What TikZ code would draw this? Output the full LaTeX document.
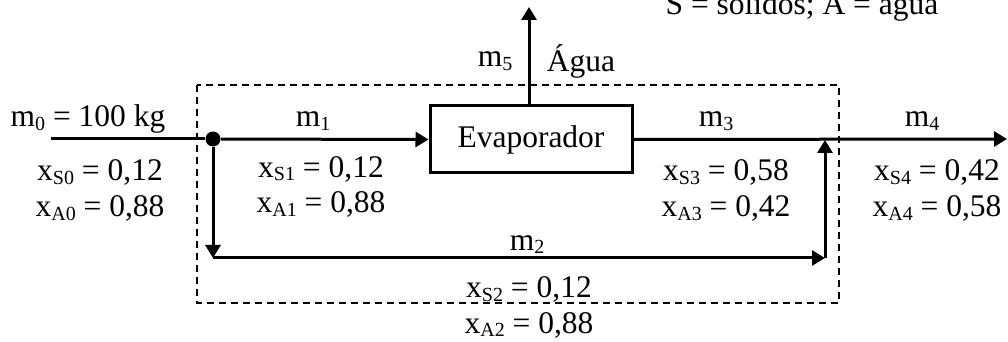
\documentclass[tikz,border=0pt]{standalone}
\usepackage{fontspec}
\setmainfont{Liberation Serif}
\usetikzlibrary{arrows.meta}
% small lowered index used in the stream names
\newcommand\idx[1]{\raisebox{-0.1em}{\fontsize{10}{10}\selectfont #1}}

\begin{document}
\begin{tikzpicture}[x=0.5pt,y=-0.5pt,
  every node/.style={font=\fontsize{15.75}{19}\selectfont, inner sep=0pt},
  flow/.style={line width=1.5pt},
  arr/.style={flow, -{Triangle[length=6.5pt,width=7.5pt]}},
  lbl/.style={anchor=base},
  unit/.style={draw, line width=1.5pt, minimum width=101pt, minimum height=33.5pt},
  boundary/.style={line width=1pt, dash pattern=on 3.5pt off 2.5pt}]
\useasboundingbox (0,0) rectangle (1008,342);

% control volume
\draw[boundary] (197,85) rectangle (839,303);

% process unit and junctions
\node[unit] (evap) at (531,139.5) {Evaporador};
\node[circle, fill, minimum size=7.5pt] (split) at (213,139) {};
\coordinate (in)   at (51,139);
\coordinate (out)  at (1007,139);
\coordinate (vent) at (529,7);
\coordinate (c1)   at (213,258);
\coordinate (c2)   at (825,258);
\coordinate (mix)  at (825,140);

% streams
\draw[flow] (in) -- (split);
\draw[arr] (split) -- (evap.west);
\draw[arr] (evap.east) -- (out);
\draw[arr] (evap.north -| vent) -- (vent);
\draw[arr] (split) -- (c1);
\draw[arr] (c1) -- (c2);
\draw[arr] (c2) -- (mix);

% legend
\node[lbl] (legend) at (802,15) {S = sólidos; A = água};

% stream labels
\node[lbl] (m0) at (88,127) {m\idx{0} = 100 kg};
\node[lbl] (xs0) at (100,181) {x\idx{S0} = 0,12};
\node[lbl] (xa0) at (100,217) {x\idx{A0} = 0,88};

\node[lbl] (m1) at (313,127) {m\idx{1}};
\node[lbl] (xs1) at (321,177) {x\idx{S1} = 0,12};
\node[lbl] (xa1) at (321,213) {x\idx{A1} = 0,88};

\node[lbl] (m2) at (527,250) {m\idx{2}};
\node[lbl] (xs2) at (529,298) {x\idx{S2} = 0,12};
\node[lbl] (xa2) at (529,333) {x\idx{A2} = 0,88};

\node[lbl] (m3) at (716,127) {m\idx{3}};
\node[lbl] (xs3) at (726,181) {x\idx{S3} = 0,58};
\node[lbl] (xa3) at (726,217) {x\idx{A3} = 0,42};

\node[lbl] (m4) at (922,127) {m\idx{4}};
\node[lbl] (xs4) at (937,181) {x\idx{S4} = 0,42};
\node[lbl] (xa4) at (937,217) {x\idx{A4} = 0,58};

\node[lbl] (m5) at (495,67) {m\idx{5}};
\node[lbl] (agua) at (581,72) {Água};
\end{tikzpicture}
\end{document}
